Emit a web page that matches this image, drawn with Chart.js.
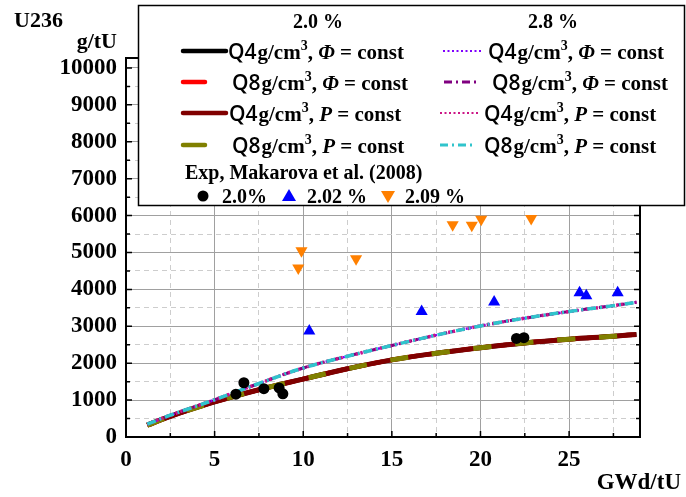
<!DOCTYPE html>
<html>
<head>
<meta charset="utf-8">
<script src="https://cdn.jsdelivr.net/npm/chart.js@4.4.1/dist/chart.umd.min.js"></script>
<style>
  html, body { margin: 0; padding: 0; background: #fff; }
</style>
</head>
<body>
<canvas id="myChart" width="686" height="497"></canvas>
<script>
// burnup grid (GWd/tU) for the calculated curves
const burnup = [1.2, 2.5, 5, 7.5, 10, 12.5, 15, 17.5, 20, 22.5, 25, 27.5, 28.8];
// U236 content, g/tU, 2.0 % enrichment (all four variants coincide)
const u236_20 = [320, 560, 950, 1280, 1570, 1850, 2090, 2270, 2420, 2550, 2650, 2730, 2780];
// U236 content, g/tU, 2.8 % enrichment
const u236_28 = [350, 590, 1010, 1450, 1870, 2190, 2480, 2760, 3010, 3220, 3400, 3560, 3650];

// Makarova et al. (2008) measurements
const exp20x = [6.2, 6.65, 7.78, 8.64, 8.85, 22.03, 22.45];
const exp20y = [1160, 1470, 1310, 1330, 1170, 2670, 2690];
const exp202x = [10.34, 16.68, 20.77, 25.59, 25.97, 27.74];
const exp202y = [2870, 3400, 3660, 3910, 3830, 3910];
const exp209x = [9.72, 9.9, 12.98, 18.43, 19.51, 20.04, 22.86];
const exp209y = [4580, 5050, 4830, 5750, 5740, 5900, 5920];

// axis ticks: labelled ones, plus dashed grid lines halfway between
const xLabels = [0, 5, 10, 15, 20, 25];
const yLabels = [0, 1000, 2000, 3000, 4000, 5000, 6000, 7000, 8000, 9000, 10000];
const xGrid = [0, 2.5, 5, 7.5, 10, 12.5, 15, 17.5, 20, 22.5, 25, 27.5];
const yGrid = [0, 500, 1000, 1500, 2000, 2500, 3000, 3500, 4000, 4500, 5000,
               5500, 6000, 6500, 7000, 7500, 8000, 8500, 9000, 9500, 10000];

const SERIF = '"Liberation Serif", "Times New Roman", serif';
const SANS = '"Open Sans", "DejaVu Sans", sans-serif';

function pts(xs, ys) {
    return xs.map((x, i) => ({ x: x, y: ys[i] }));
}

function curve(ys, color, width, dash, order) {
    return {
        data: pts(burnup, ys),
        showLine: true,
        borderColor: color,
        borderWidth: width,
        borderDash: dash,
        pointRadius: 0,
        tension: 0.4,
        borderCapStyle: 'butt',
        order: order
    };
}

function markers(xs, ys, color, style, rot, r) {
    return {
        data: pts(xs, ys),
        showLine: false,
        pointStyle: style,
        rotation: rot,
        pointRadius: r,
        backgroundColor: color,
        borderColor: color,
        borderWidth: 0,
        order: 0
    };
}

// white page background
const bgPlugin = {
    id: 'bg',
    beforeDraw(chart) {
        const c = chart.ctx;
        c.save();
        c.fillStyle = '#fff';
        c.fillRect(0, 0, chart.width, chart.height);
        c.restore();
    }
};

// frame, inward ticks, axis titles
const framePlugin = {
    id: 'frame',
    afterDatasetsDraw(chart) {
        const c = chart.ctx;
        const a = chart.chartArea;
        const xs = chart.scales.x, ys = chart.scales.y;
        c.save();
        c.strokeStyle = '#000';
        c.lineWidth = 2;
        c.strokeRect(a.left, a.top, a.right - a.left, a.bottom - a.top);
        c.lineWidth = 1.5;
        c.beginPath();
        xGrid.slice(1).forEach(v => {
            const px = xs.getPixelForValue(v);
            const len = xLabels.includes(v) ? 6 : 4;
            c.moveTo(px, a.bottom);
            c.lineTo(px, a.bottom - len);
        });
        yGrid.slice(1).forEach(v => {
            const py = ys.getPixelForValue(v);
            const len = yLabels.includes(v) ? 6 : 4;
            c.moveTo(a.left, py);
            c.lineTo(a.left + len, py);
            c.moveTo(a.right, py);
            c.lineTo(a.right - len, py);
        });
        c.stroke();

        c.fillStyle = '#000';
        c.textBaseline = 'alphabetic';
        c.textAlign = 'left';
        c.font = 'bold 22px ' + SERIF;
        c.fillText('U236', 14, 27);
        c.textAlign = 'right';
        c.fillText('g/tU', 117, 48);
        c.font = 'bold 23px ' + SERIF;
        c.fillText('GWd/tU', 681, 489);
        c.restore();
    }
};

function drawParts(c, x, y, parts) {
    parts.forEach(p => {
        c.font = p.font;
        c.fillText(p.text, x, y + (p.dy || 0));
        x += c.measureText(p.text).width + (p.gap || 0);
    });
}

function labelParts(dens, sym) {
    return [
        { text: dens, font: '600 21px ' + SANS, gap: 1 },
        { text: 'g/cm', font: 'bold 21px ' + SERIF },
        { text: '3', font: 'bold 14px ' + SERIF, dy: -9 },
        { text: ', ', font: 'bold 21px ' + SERIF },
        { text: sym, font: 'italic bold 21px ' + SERIF },
        { text: ' = const', font: 'bold 21px ' + SERIF }
    ];
}

// two-column legend box drawn over the top of the plot
const legendPlugin = {
    id: 'bigLegend',
    afterDraw(chart) {
        const c = chart.ctx;
        c.save();
        c.fillStyle = '#fff';
        c.fillRect(138, 5, 547, 200);
        c.strokeStyle = '#000';
        c.lineWidth = 1.5;
        c.strokeRect(138.5, 5.5, 546, 200);

        c.fillStyle = '#000';
        c.textBaseline = 'alphabetic';
        c.textAlign = 'center';
        c.font = 'bold 20px ' + SERIF;
        c.fillText('2.0 %', 318, 28);
        c.fillText('2.8 %', 553, 28);
        c.textAlign = 'left';

        const rows = [51, 82, 113, 145];
        const left = [
            { c: '#000000', w: 4.5, d: [], x0: 183, x1: 226, tx: 228, dens: 'Q4', s: 'Φ' },
            { c: '#ff0000', w: 4.5, d: [], x0: 183, x1: 205, tx: 232, dens: 'Q8', s: 'Φ' },
            { c: '#800000', w: 4.5, d: [], x0: 183, x1: 226, tx: 229, dens: 'Q4', s: 'P' },
            { c: '#808000', w: 4.5, d: [], x0: 183, x1: 205, tx: 232, dens: 'Q8', s: 'P' }
        ];
        const right = [
            { c: '#8000ff', w: 2, d: [2, 2.5], x0: 443, x1: 482, tx: 488, dens: 'Q4', s: 'Φ' },
            { c: '#800080', w: 3, d: [8, 4, 2, 4], x0: 444, x1: 480, tx: 492, dens: 'Q8', s: 'Φ' },
            { c: '#cc1585', w: 2, d: [2, 2.5], x0: 440, x1: 478, tx: 484, dens: 'Q4', s: 'P' },
            { c: '#30c4cc', w: 3, d: [8, 4, 2, 4], x0: 440, x1: 475, tx: 484, dens: 'Q8', s: 'P' }
        ];
        [left, right].forEach(col => {
            col.forEach((it, i) => {
                const y = rows[i];
                c.strokeStyle = it.c;
                c.lineWidth = it.w;
                c.lineCap = it.d.length ? 'butt' : 'round';
                c.setLineDash(it.d);
                c.beginPath();
                c.moveTo(it.x0, y);
                c.lineTo(it.x1, y);
                c.stroke();
                c.setLineDash([]);
                c.fillStyle = '#000';
                drawParts(c, it.tx, y + 8, labelParts(it.dens, it.s));
            });
        });

        c.fillStyle = '#000';
        c.font = 'bold 20px ' + SERIF;
        c.fillText('Exp, Makarova et al. (2008)', 185, 179);

        const my = 196;
        c.beginPath();
        c.arc(203, my, 5.5, 0, Math.PI * 2);
        c.fill();
        c.fillStyle = '#0000ff';
        c.beginPath();
        c.moveTo(289, my - 7);
        c.lineTo(296, my + 5);
        c.lineTo(282, my + 5);
        c.closePath();
        c.fill();
        c.fillStyle = '#ff8000';
        c.beginPath();
        c.moveTo(381, my - 5);
        c.lineTo(395, my - 5);
        c.lineTo(388, my + 7);
        c.closePath();
        c.fill();
        c.fillStyle = '#000';
        c.font = 'bold 20px ' + SERIF;
        c.fillText('2.0%', 222, 203);
        c.fillText('2.02 %', 307, 203);
        c.fillText('2.09 %', 405, 203);
        c.restore();
    }
};

function axisOptions(min, max, grid, labels, fit) {
    const major = ctx => ctx.tick && labels.includes(ctx.tick.value);
    return {
        type: 'linear',
        min: min,
        max: max,
        afterFit: fit,
        afterBuildTicks(scale) {
            scale.ticks = grid.map(v => ({ value: v }));
        },
        border: {
            display: false,
            dash: ctx => (ctx.tick && !major(ctx)) ? [5, 4] : []
        },
        grid: {
            drawTicks: false,
            lineWidth: 1,
            color: ctx => major(ctx) ? '#a0a0a0' : '#cdcdcd'
        },
        ticks: {
            autoSkip: false,
            maxRotation: 0,
            color: '#000',
            font: { family: SERIF, size: 23, weight: 'bold' },
            callback: v => labels.includes(v) ? String(v) : ''
        }
    };
}

const xAxis = axisOptions(0, 29, xGrid, xLabels, scale => { scale.height = 60; });
xAxis.ticks.padding = 9;
const yAxis = axisOptions(0, 10270, yGrid, yLabels, scale => { scale.width = 126; });
yAxis.ticks.padding = 9;

new Chart('myChart', {
    type: 'scatter',
    data: {
        datasets: [
            markers(exp20x, exp20y, '#000000', 'circle', 0, 5.5),
            markers(exp202x, exp202y, '#0000ff', 'triangle', 0, 7),
            markers(exp209x, exp209y, '#ff8000', 'triangle', 180, 7),
            curve(u236_28, '#30c4cc', 3.5, [9, 4, 2, 4], 1),
            curve(u236_28, '#cc1585', 3.5, [2, 3], 2),
            curve(u236_28, '#800080', 3, [8, 4, 2, 4], 3),
            curve(u236_28, '#8000ff', 2.5, [2, 2.5], 4),
            curve(u236_20, '#808000', 5, [18, 24], 5),
            curve(u236_20, '#800000', 5, [], 6),
            curve(u236_20, '#ff0000', 4.5, [10, 8], 7),
            curve(u236_20, '#000000', 4.5, [], 8)
        ]
    },
    options: {
        responsive: false,
        animation: false,
        devicePixelRatio: 1,
        layout: { padding: { top: 58, right: 46, left: 0, bottom: 0 } },
        plugins: {
            legend: { display: false },
            tooltip: { enabled: false }
        },
        scales: { x: xAxis, y: yAxis }
    },
    plugins: [bgPlugin, framePlugin, legendPlugin]
});
</script>
</body>
</html>
